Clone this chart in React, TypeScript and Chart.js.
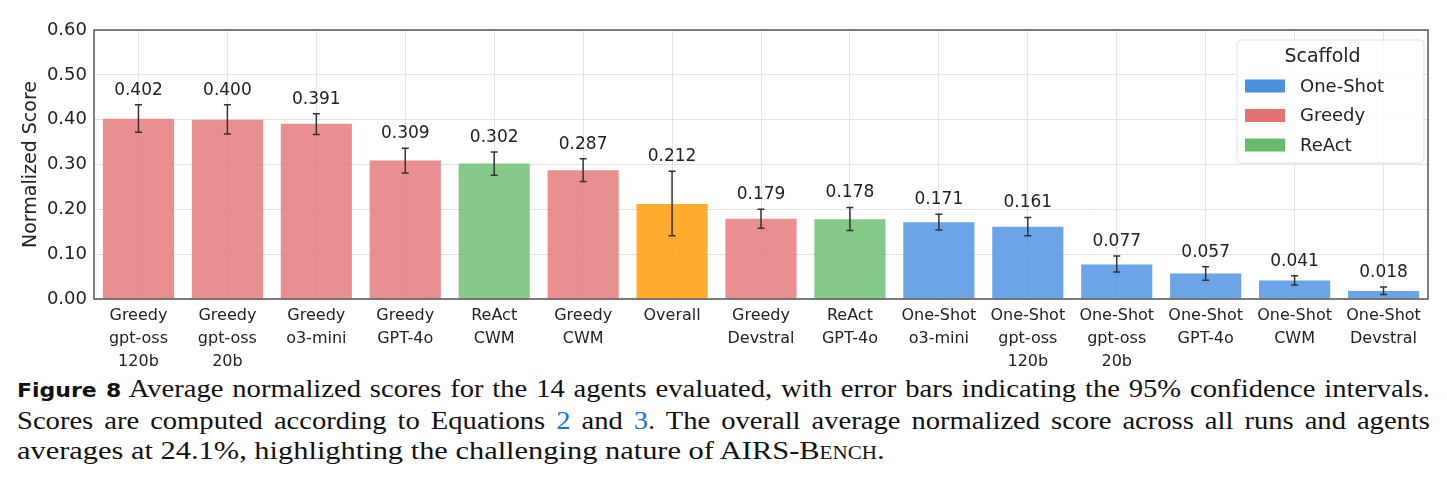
import React, { useEffect, useRef } from "react";
import { Chart, registerables } from "chart.js";

Chart.register(...registerables);

const categories: string[][] = [
  ["Greedy", "gpt-oss", "120b"],
  ["Greedy", "gpt-oss", "20b"],
  ["Greedy", "o3-mini"],
  ["Greedy", "GPT-4o"],
  ["ReAct", "CWM"],
  ["Greedy", "CWM"],
  ["Overall"],
  ["Greedy", "Devstral"],
  ["ReAct", "GPT-4o"],
  ["One-Shot", "o3-mini"],
  ["One-Shot", "gpt-oss", "120b"],
  ["One-Shot", "gpt-oss", "20b"],
  ["One-Shot", "GPT-4o"],
  ["One-Shot", "CWM"],
  ["One-Shot", "Devstral"],
];
const scores: number[] = [0.402, 0.4, 0.391, 0.309, 0.302, 0.287, 0.212, 0.179, 0.178, 0.171, 0.161, 0.077, 0.057, 0.041, 0.018];
const ciLow: number[] = [0.372, 0.368, 0.367, 0.281, 0.276, 0.262, 0.141, 0.158, 0.153, 0.154, 0.141, 0.06, 0.042, 0.031, 0.01];
const ciHigh: number[] = [0.433, 0.433, 0.413, 0.336, 0.328, 0.313, 0.285, 0.2, 0.204, 0.189, 0.182, 0.096, 0.072, 0.052, 0.027];
const scaffolds: string[] = ["Greedy", "Greedy", "Greedy", "Greedy", "ReAct", "Greedy", "Overall", "Greedy", "ReAct", "One-Shot", "One-Shot", "One-Shot", "One-Shot", "One-Shot", "One-Shot"];
const legendItems: string[] = ["One-Shot", "Greedy", "ReAct"];
const yTicks: number[] = [0, 0.05, 0.1, 0.15, 0.2, 0.25, 0.3, 0.35, 0.4, 0.45, 0.5, 0.55, 0.6];

const solid: Record<string, string> = {
  "One-Shot": "#4A90E2",
  Greedy: "#E57373",
  ReAct: "#66BB6A",
  Overall: "#FF9800",
};
const fill: Record<string, string> = {
  "One-Shot": "rgba(74,144,226,0.82)",
  Greedy: "rgba(229,115,115,0.8)",
  ReAct: "rgba(102,187,106,0.8)",
  Overall: "rgba(255,152,0,0.82)",
};

const FONT = "'DejaVu Sans', sans-serif";

const overlay = {
  id: "overlay",
  afterDatasetsDraw(chart: any) {
    const ctx = chart.ctx;
    const x = chart.scales.x;
    const y = chart.scales.y;
    const area = chart.chartArea;
    ctx.save();
    scores.forEach((v, i) => {
      const cx = x.getPixelForValue(i);
      const yt = y.getPixelForValue(ciHigh[i]);
      const yb = y.getPixelForValue(ciLow[i]);
      ctx.strokeStyle = "#333";
      ctx.lineWidth = 1.5;
      ctx.beginPath();
      ctx.moveTo(cx, yt);
      ctx.lineTo(cx, yb);
      ctx.moveTo(cx - 3.5, yt);
      ctx.lineTo(cx + 3.5, yt);
      ctx.moveTo(cx - 3.5, yb);
      ctx.lineTo(cx + 3.5, yb);
      ctx.stroke();
      ctx.fillStyle = "#222";
      ctx.font = `17px ${FONT}`;
      ctx.textAlign = "center";
      ctx.textBaseline = "bottom";
      ctx.fillText(v.toFixed(3), cx, yt - 6);
    });
    ctx.strokeStyle = "#555";
    ctx.lineWidth = 1.5;
    ctx.strokeRect(area.left, area.top, area.right - area.left, area.bottom - area.top);
    const bx = area.right - 191;
    const by = area.top + 10;
    const bw = 187;
    const bh = 123;
    ctx.fillStyle = "rgba(255,255,255,0.85)";
    ctx.strokeStyle = "#e0e0e0";
    ctx.lineWidth = 1;
    ctx.beginPath();
    (ctx as any).roundRect(bx, by, bw, bh, 4);
    ctx.fill();
    ctx.stroke();
    ctx.fillStyle = "#222";
    ctx.font = `19px ${FONT}`;
    ctx.textAlign = "center";
    ctx.textBaseline = "middle";
    ctx.fillText("Scaffold", bx + bw / 2 - 8, by + 17);
    legendItems.forEach((name, k) => {
      const cy = by + 46 + k * 29.5;
      ctx.fillStyle = solid[name];
      ctx.fillRect(bx + 8, cy - 6.5, 40, 13);
      ctx.fillStyle = "#222";
      ctx.font = `18px ${FONT}`;
      ctx.textAlign = "left";
      ctx.fillText(name, bx + 63, cy + 1);
    });
    ctx.restore();
  },
};

const SCALE_LAST = 1.17;
const SCALE_FULL = 1.1;
const LINE_W = 1413;

export default function App() {
  const ref = useRef<HTMLCanvasElement | null>(null);
  useEffect(() => {
    document.body.style.margin = "0";
    const chart = new Chart(ref.current as HTMLCanvasElement, {
      type: "bar",
      data: {
        labels: categories,
        datasets: [
          {
            data: scores,
            backgroundColor: scaffolds.map((s) => fill[s]),
            borderWidth: 0,
            barPercentage: 0.8,
            categoryPercentage: 1.0,
          },
        ],
      },
      options: {
        responsive: false,
        animation: false,
        layout: { padding: { left: 0, right: 19, top: 30, bottom: 0 } },
        plugins: { legend: { display: false }, tooltip: { enabled: false } },
        scales: {
          x: {
            grid: { offset: false, color: "#e3e3e3", drawTicks: false, lineWidth: 1 },
            border: { display: false },
            ticks: {
              font: { family: FONT, size: 16, lineHeight: 1.45 },
              color: "#222",
              padding: 5,
              maxRotation: 0,
              autoSkip: false,
            },
            afterFit: (s: any) => {
              s.height = 71;
            },
          },
          y: {
            min: 0,
            max: 0.6,
            afterBuildTicks: (s: any) => {
              s.ticks = yTicks.map((v) => ({ value: v }));
            },
            ticks: {
              callback: (v: any) => Number(v).toFixed(2),
              font: { family: FONT, size: 18 },
              color: "#222",
              padding: 7,
            },
            grid: { color: "#e3e3e3", drawTicks: false, lineWidth: 1 },
            border: { display: false },
            title: {
              display: true,
              text: "Normalized Score",
              font: { family: FONT, size: 19 },
              color: "#222",
              padding: { top: 20, bottom: 0 },
            },
            afterFit: (s: any) => {
              s.width = 94;
            },
          },
        },
      },
      plugins: [overlay],
    });
    return () => chart.destroy();
  }, []);

  const justified: React.CSSProperties = {
    width: LINE_W / SCALE_FULL,
    transform: `scaleX(${SCALE_FULL})`,
    transformOrigin: "left top",
    whiteSpace: "nowrap",
    textAlign: "justify",
    textAlignLast: "justify",
  };
  const last: React.CSSProperties = {
    width: LINE_W / SCALE_LAST,
    transform: `scaleX(${SCALE_LAST})`,
    transformOrigin: "left top",
    whiteSpace: "nowrap",
  };

  return (
    <div style={{ width: 1447, background: "#fff", overflow: "hidden" }}>
      <canvas ref={ref} width={1447} height={370} style={{ display: "block" }} />
      <div
        style={{
          marginLeft: 17,
          fontFamily: "'Liberation Serif', 'DejaVu Serif', serif",
          fontSize: 26,
          lineHeight: "30.5px",
          color: "#111",
          paddingTop: 4,
        }}
      >
        <div style={justified}>
          <span style={{ fontFamily: FONT, fontWeight: "bold", fontSize: 20 }}>Figure 8</span>
          {"  "}Average normalized scores for the 14 agents evaluated, with error bars indicating the 95% confidence intervals.
        </div>
        <div style={justified}>
          Scores are computed according to Equations <span style={{ color: "#1a6fdc" }}>2</span> and{" "}
          <span style={{ color: "#1a6fdc" }}>3</span>. The overall average normalized score across all runs and agents
        </div>
        <div style={last}>
          averages at 24.1%, highlighting the challenging nature of AIRS-<span style={{ fontVariant: "small-caps" }}>Bench</span>.
        </div>
      </div>
    </div>
  );
}
